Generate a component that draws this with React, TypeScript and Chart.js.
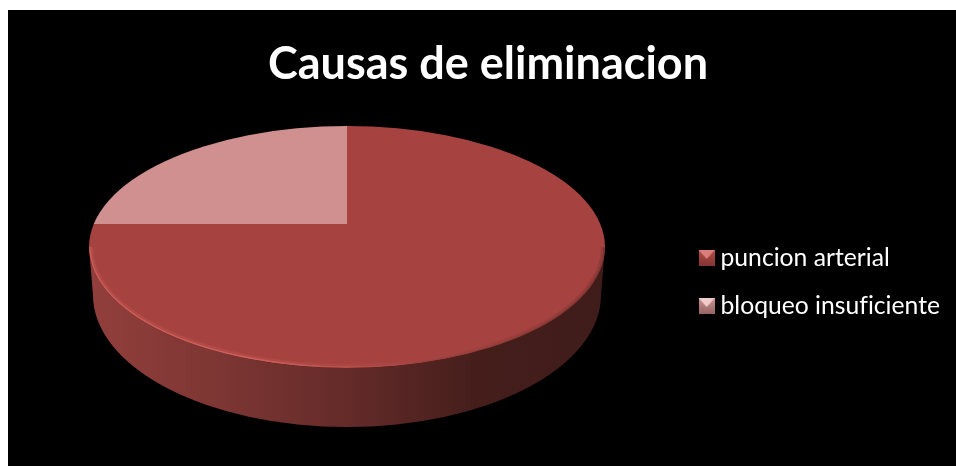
import React, { useEffect, useRef } from "react";
import { Chart, registerables } from "chart.js";

Chart.register(...registerables);

const titleText = "Causas de eliminacion";
const categories = ["puncion arterial", "bloqueo insuficiente"];
const values = [75, 25];
const sliceColors = ["#a64340", "#cf908f"];
const markerShades = [
  { top: "#dc7f7b", side: "#b04c48", bottom: "#843532" },
  { top: "#f0cdcb", side: "#cc9291", bottom: "#946564" },
];

const FONT = "Lato, Carlito, 'Open Sans', sans-serif";

function makeMarker(s: { top: string; side: string; bottom: string }) {
  const c = document.createElement("canvas");
  c.width = 16;
  c.height = 16;
  const g = c.getContext("2d")!;
  const v = g.createLinearGradient(0, 0, 0, 16);
  v.addColorStop(0, s.side);
  v.addColorStop(1, s.bottom);
  g.fillStyle = v;
  g.fillRect(0, 0, 16, 16);
  g.fillStyle = s.top;
  g.beginPath();
  g.moveTo(0, 0);
  g.lineTo(16, 0);
  g.lineTo(8, 9);
  g.closePath();
  g.fill();
  return c;
}

const geom = { cx: 339, cy: 237, rx: 258, ry: 121, apexY: 214, bx: 339, by: 285, brx: 254, bry: 132 };

function plainText(ctx: any) {
  ctx.textRendering = "optimizeSpeed";
  ctx.fontKerning = "normal";
}

const pie3d = {
  id: "pie3d",
  beforeUpdate(chart: any) {
    plainText(chart.ctx);
  },
  beforeDraw(chart: any) {
    plainText(chart.ctx);
  },
  beforeDatasetsDraw(chart: any) {
    const { ctx } = chart;
    const el = chart.getDatasetMeta(0).data[0];
    const R = el.outerRadius;
    const { cx, cy, rx, ry, apexY, bx, by, brx, bry } = geom;
    const g = ctx.createLinearGradient(cx - rx, 0, cx + rx, 0);
    g.addColorStop(0, "#923f3c");
    g.addColorStop(0.25, "#7d3633");
    g.addColorStop(0.5, "#642b29");
    g.addColorStop(0.75, "#451e1b");
    g.addColorStop(1, "#3f1c1a");
    ctx.save();
    ctx.fillStyle = g;
    ctx.beginPath();
    ctx.moveTo(cx + rx, cy);
    ctx.lineTo(bx + brx, by);
    ctx.ellipse(bx, by, brx, bry, 0, 0, Math.PI, false);
    ctx.lineTo(cx - rx, cy);
    ctx.ellipse(cx, cy, rx, ry, 0, Math.PI, 0, true);
    ctx.closePath();
    ctx.fill();
    ctx.restore();
    // top face: the pie, with its apex behind the ellipse centre, clipped to the ellipse
    ctx.save();
    ctx.beginPath();
    ctx.ellipse(cx, cy, rx, ry, 0, 0, Math.PI * 2);
    ctx.clip();
    ctx.translate(cx, apexY);
    ctx.scale((rx * 1.15) / R, (ry * 1.4) / R);
    ctx.translate(-el.x, -el.y);
  },
  afterDatasetsDraw(chart: any) {
    const { ctx } = chart;
    ctx.restore();
    const { cx, cy, rx, ry } = geom;
    const soft = ctx.createLinearGradient(cx - rx, 0, cx + rx, 0);
    soft.addColorStop(0, "rgba(226,105,100,0.2)");
    soft.addColorStop(0.3, "rgba(226,105,100,0.2)");
    soft.addColorStop(0.6, "rgba(226,105,100,0.03)");
    soft.addColorStop(0.72, "rgba(70,30,28,0.05)");
    soft.addColorStop(1, "rgba(70,30,28,0.2)");
    const fine = ctx.createLinearGradient(cx - rx, 0, cx + rx, 0);
    fine.addColorStop(0, "rgba(226,105,100,0.5)");
    fine.addColorStop(0.3, "rgba(232,115,108,0.55)");
    fine.addColorStop(0.58, "rgba(226,105,100,0.1)");
    fine.addColorStop(0.66, "rgba(70,30,28,0.08)");
    fine.addColorStop(1, "rgba(70,30,28,0.25)");
    ctx.save();
    ctx.strokeStyle = soft;
    ctx.lineWidth = 4;
    ctx.beginPath();
    ctx.ellipse(cx, cy, rx - 2, ry - 2, 0, 0, Math.PI, false);
    ctx.stroke();
    ctx.strokeStyle = fine;
    ctx.lineWidth = 1.5;
    ctx.beginPath();
    ctx.ellipse(cx, cy, rx - 1, ry - 1, 0, 0, Math.PI, false);
    ctx.stroke();
    ctx.restore();
  },
};

export default function App() {
  const ref = useRef<HTMLCanvasElement>(null);
  useEffect(() => {
    const chart = new Chart(ref.current!, {
      type: "pie",
      data: {
        labels: categories,
        datasets: [
          {
            data: values,
            backgroundColor: sliceColors,
            borderWidth: 0,
            clip: false,
          } as any,
        ],
      },
      options: {
        responsive: false,
        animation: false,
        layout: { padding: { left: 18, right: 6, top: 88, bottom: 0 } },
        plugins: {
          tooltip: { enabled: false },
          title: {
            display: true,
            text: titleText,
            color: "#ffffff",
            font: { family: FONT, size: 45, weight: "bold" },
            padding: { top: -61, bottom: 20 },
          },
          legend: {
            position: "right",
            labels: {
              color: "#ffffff",
              font: { family: FONT, size: 24.7 },
              usePointStyle: true,
              pointStyleWidth: 3,
              padding: 23.3,
              generateLabels: () =>
                categories.map((text, i) => ({
                  text,
                  fontColor: "#ffffff",
                  pointStyle: makeMarker(markerShades[i]),
                  datasetIndex: 0,
                  index: i,
                  hidden: false,
                  lineWidth: 0,
                })),
            },
          },
        },
      },
      plugins: [pie3d],
    } as any);
    return () => chart.destroy();
  }, []);
  return (
    <canvas
      ref={ref}
      width={948}
      height={456}
      style={{ position: "fixed", left: 8, top: 10, width: 948, height: 456, background: "#000", display: "block" }}
    />
  );
}
